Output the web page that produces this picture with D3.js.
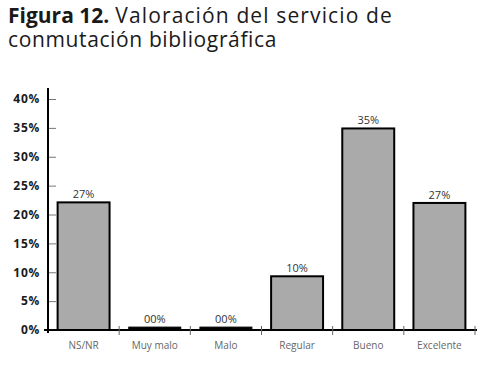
<!DOCTYPE html>
<html><head><meta charset="utf-8">
<script src="https://cdn.jsdelivr.net/npm/d3@7"></script>
<style>
html,body{margin:0;padding:0;background:#fff;}
svg{display:block;}
</style></head>
<body>
<svg id="chart" width="483" height="383"></svg>
<script>
// Data
const categories = ["NS/NR", "Muy malo", "Malo", "Regular", "Bueno", "Excelente"];
const barValues = [22.1, 0.5, 0.5, 9.3, 34.9, 22.0];           // bar heights as drawn (%)
const valueLabels = ["27%", "00%", "00%", "10%", "35%", "27%"]; // printed labels
const yTicks = [0, 5, 10, 15, 20, 25, 30, 35, 40];
const titleBold = "Figura 12.";
const titleRest = "Valoración del servicio de";
const titleLine2 = "conmutación bibliográfica";

const svg = d3.select("#chart");
const x0 = 48, x1 = 475, yBase = 330, yTop = 99;

const x = d3.scaleBand().domain(categories).range([x0, x1]).paddingInner(0.27).paddingOuter(0.135);
const y = d3.scaleLinear().domain([0, 40]).range([yBase, yTop]);

const FONT = "'Open Sans', Lato, sans-serif";
const TFS = 21;

// Title (separate text elements; widths fitted to the reference lines)
const tb = svg.append("text").attr("x", 8).attr("y", 22.5)
  .attr("font-family", FONT).attr("font-size", TFS).attr("font-weight", "bold")
  .attr("fill", "#1a1a1a").text(titleBold);
const wb = tb.node().getComputedTextLength();
const tr = svg.append("text").attr("x", 8 + wb + 6).attr("y", 22.5)
  .attr("font-family", FONT).attr("font-size", TFS).attr("fill", "#1a1a1a").text(titleRest);
const wr = tr.node().getComputedTextLength();
const targetRest = 393 - (8 + wb + 6);
tr.attr("letter-spacing", (targetRest - wr) / titleRest.length);
const t2 = svg.append("text").attr("x", 8).attr("y", 47)
  .attr("font-family", FONT).attr("font-size", TFS).attr("fill", "#1a1a1a").text(titleLine2);
const w2 = t2.node().getComputedTextLength();
t2.attr("letter-spacing", (269 - w2) / titleLine2.length);

// Y axis
const yAxis = d3.axisLeft(y).tickValues(yTicks).tickFormat(d => d + "%")
  .tickSizeInner(-8).tickSizeOuter(0).tickPadding(8);
const gy = svg.append("g").attr("transform", `translate(${x0},0)`).call(yAxis);
gy.select(".domain").remove();
gy.selectAll(".tick line").attr("stroke", "#777").attr("stroke-width", 1);
gy.selectAll(".tick text").attr("font-family", FONT).attr("font-size", 12)
  .attr("font-weight", "bold").attr("letter-spacing", 0.7).attr("fill", "#1a1a1a");
svg.append("line").attr("x1", x0).attr("x2", x0).attr("y1", 88).attr("y2", yBase + 3)
  .attr("stroke", "#000").attr("stroke-width", 2);

// Bars
svg.append("g").selectAll("rect").data(categories).join("rect")
  .attr("x", d => x(d)).attr("width", x.bandwidth())
  .attr("y", (d, i) => y(barValues[i])).attr("height", (d, i) => yBase - y(barValues[i]))
  .attr("fill", (d, i) => barValues[i] < 1 ? "#000" : "#aaaaaa")
  .attr("stroke", "#000").attr("stroke-width", (d, i) => barValues[i] < 1 ? 1 : 2);

// X axis baseline
svg.append("line").attr("x1", x0 - 4).attr("x2", x1 + 2).attr("y1", yBase).attr("y2", yBase)
  .attr("stroke", "#000").attr("stroke-width", 2);

// X ticks at band boundaries
const boundaries = categories.map((d, i) => x0 + (i + 1) * (x1 - x0) / categories.length);
svg.append("g").selectAll("line").data(boundaries).join("line")
  .attr("x1", d => d).attr("x2", d => d).attr("y1", yBase - 4).attr("y2", yBase + 5)
  .attr("stroke", "#666").attr("stroke-width", 1);

// Category labels
svg.append("g").selectAll("text").data(categories).join("text")
  .attr("x", d => x(d) + x.bandwidth() / 2).attr("y", 349)
  .attr("text-anchor", "middle").attr("font-family", FONT)
  .attr("font-size", 10).attr("fill", "#666").text(d => d);

// Value labels
svg.append("g").selectAll("text").data(categories).join("text")
  .attr("x", d => x(d) + x.bandwidth() / 2).attr("y", (d, i) => y(barValues[i]) - 4)
  .attr("text-anchor", "middle").attr("font-family", FONT)
  .attr("font-size", 11).attr("fill", "#333").text((d, i) => valueLabels[i]);
</script>
</body></html>
